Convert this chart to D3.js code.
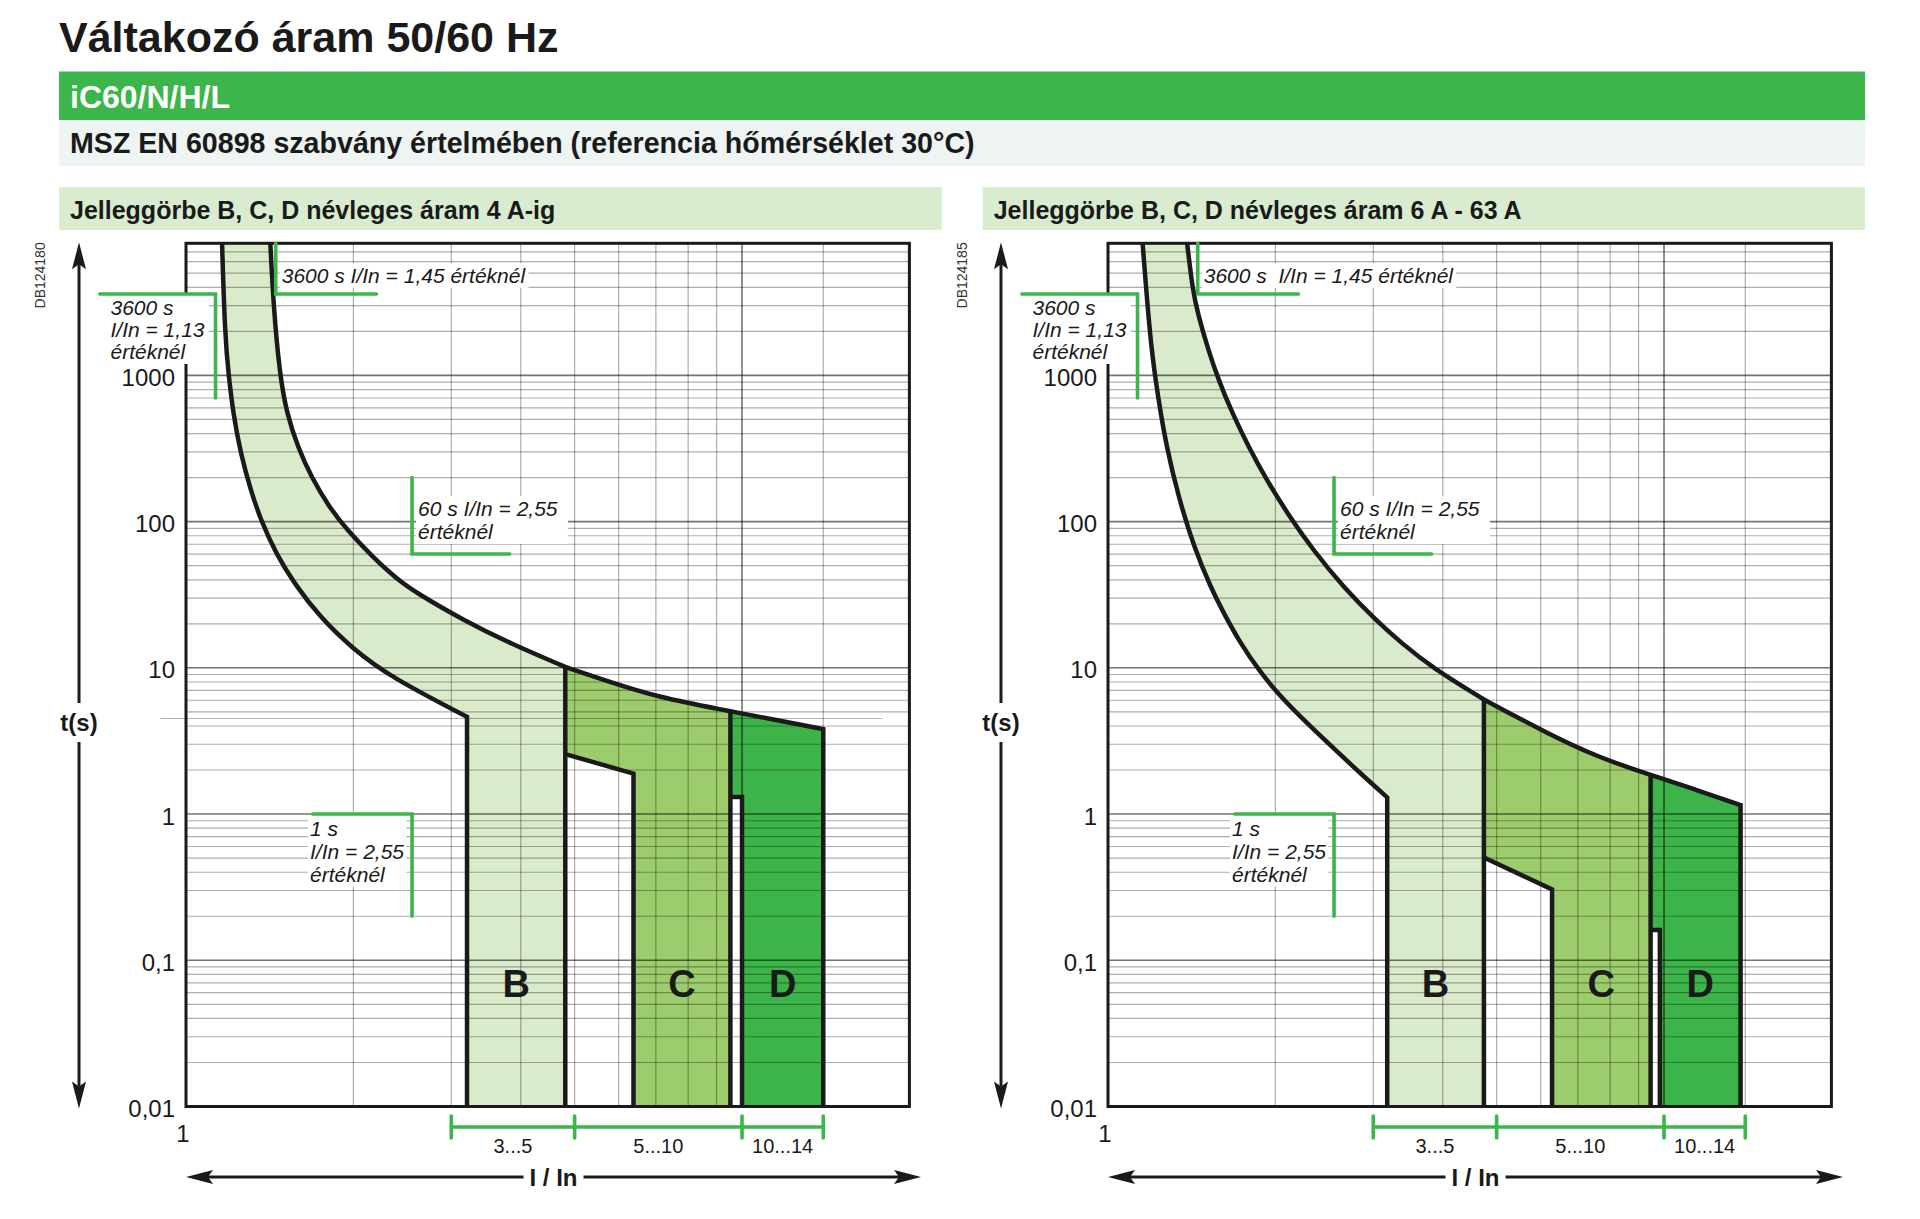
<!DOCTYPE html>
<html>
<head>
<meta charset="utf-8">
<script src="https://d3js.org/d3.v7.min.js"></script>
<style>
  body { margin: 0; background: #fff; }
  text { font-family: "Liberation Sans", Arial, Helvetica, sans-serif; }
</style>
</head>
<body>
<div id="chart"></div>
<script>
// ---- data (I/In, t in seconds) ----
const yTicks = [0.01, 0.1, 1, 10, 100, 1000];
const yTickLabels = ["0,01", "0,1", "1", "10", "100", "1000"];
const xGrid = [2, 3, 4, 5, 6, 7, 8, 9, 10, 14];
const rangeLimits = [[3, 5], [5, 10], [10, 14]];
const rangeLabels = ["3...5", "5...10", "10...14"];
const bandNames = ["B", "C", "D"];

// up to 4 A
const bLower4 = [[1.161, 8000], [1.175, 1876], [1.193, 1000], [1.216, 547], [1.254, 291.6], [1.307, 163.7],
  [1.367, 99.4], [1.452, 60.4], [1.566, 37.7], [1.74, 22.3], [1.991, 13.55], [2.331, 8.66], [3.202, 4.62]];
const bUpper4 = [[1.418, 8000], [1.437, 2930], [1.475, 1000], [1.518, 547], [1.589, 323.6], [1.68, 201.7],
  [1.809, 125.8], [1.95, 87.2], [2.166, 57.3], [2.389, 40.8], [2.606, 32.2], [3.158, 21.15], [3.83, 14.66],
  [4.81, 10.14]];
const cUpper4 = [[4.81, 10.14], [5.72, 8.13], [7.03, 6.31], [9.53, 5.05]];
const dUpper4 = [[9.53, 5.05], [11.4, 4.43], [14, 3.81]];
const cLower4 = [[4.81, 2.57], [6.38, 1.89]];
const dNotch4 = [[9.53, 1.31], [10, 1.31]];
const refLine4 = [[0.9, 4.5], [17.9, 4.5]];

// 6 A - 63 A
const bLower63 = [[1.154, 8000], [1.168, 4461], [1.195, 1561], [1.23, 710.6], [1.274, 323.6], [1.339, 147.3],
  [1.427, 67.1], [1.529, 35.7], [1.616, 23.5], [1.731, 14.7], [1.867, 9.63], [2.043, 6.33], [2.282, 4.16],
  [2.547, 2.81], [2.845, 1.895], [3.178, 1.3]];
const bUpper63 = [[1.388, 8000], [1.42, 3811], [1.451, 2641], [1.509, 1561], [1.581, 924], [1.675, 547],
  [1.79, 323.6], [1.931, 191.6], [2.103, 113.4], [2.339, 63.7], [2.65, 35.7], [3.033, 21.15], [3.379, 14.66],
  [3.825, 10.05], [4.743, 6.07]];
const cUpper63 = [[4.743, 6.07], [6.17, 3.56], [7.58, 2.46], [9.46, 1.85]];
const dUpper63 = [[9.46, 1.85], [11.47, 1.46], [13.73, 1.15]];
const cLower63 = [[4.743, 0.505], [6.29, 0.305]];
const dNotch63 = [[9.46, 0.161], [9.83, 0.161]];

// marker points of the standard
const mark1450 = { I: 1.45, t: 3600, Iend: 2.2 };
const mark1130 = { I: 1.13, t: 3600, Istart: 0.7, tEnd: 700 };
const mark60 = { I: 2.55, t: 60, tStart: 200, Iend: 3.82 };
const mark1 = { I: 2.55, t: 1, Istart: 1.69, tEnd: 0.2 };

// ---- layout ----
const W = 1920, H = 1219;
const plotW = 723.4, plotTop = 243.3, plotBottom = 1106.5;
const ink = "#1a1a1a", green = "#3cb54a";

const svg = d3.select("#chart").append("svg")
  .attr("width", W).attr("height", H);

svg.append("text").attr("x", 59).attr("y", 52)
  .attr("font-size", 43).attr("font-weight", "bold").attr("fill", ink)
  .text("Váltakozó áram 50/60 Hz");
svg.append("rect").attr("x", 59).attr("y", 71.5).attr("width", 1806).attr("height", 48.5).attr("fill", green);
svg.append("text").attr("x", 70).attr("y", 108)
  .attr("font-size", 32).attr("font-weight", "bold").attr("fill", "#fff")
  .text("iC60/N/H/L");
svg.append("rect").attr("x", 59).attr("y", 120).attr("width", 1806).attr("height", 46).attr("fill", "#eef3f3");
svg.append("text").attr("x", 70).attr("y", 153)
  .attr("font-size", 28.6).attr("font-weight", "bold").attr("fill", ink)
  .text("MSZ EN 60898 szabvány értelmében (referencia hőmérséklet 30°C)");

const charts = [
  { x0: 186, panel: [59, 941.8], title: "Jelleggörbe B, C, D névleges áram 4 A-ig", code: "DB124180",
    bLower: bLower4, bUpper: bUpper4, cUpper: cUpper4, dUpper: dUpper4, cLower: cLower4, dNotch: dNotch4,
    note1450: "3600 s I/In = 1,45 értéknél", ref: refLine4 },
  { x0: 1108, panel: [982.7, 1865], title: "Jelleggörbe B, C, D névleges áram 6 A - 63 A", code: "DB124185",
    bLower: bLower63, bUpper: bUpper63, cUpper: cUpper63, dUpper: dUpper63, cLower: cLower63, dNotch: dNotch63,
    note1450: "3600 s  I/In = 1,45 értéknél", ref: null }
];

charts.forEach(drawChart);

function drawChart(c) {
  const x = d3.scaleLog().domain([1, 20]).range([c.x0, c.x0 + plotW]);
  const y = d3.scaleLog().domain([0.01, 8000]).range([plotBottom, plotTop]);
  const P = d => `${x(d[0])},${y(d[1])}`;
  const curve = d3.line().x(d => x(d[0])).y(d => y(d[1])).curve(d3.curveBasis);
  const cont = pts => curve(pts).replace(/^M/, "L");
  const last = a => a[a.length - 1];
  const tMin = 0.01;

  // panel header
  svg.append("rect").attr("x", c.panel[0]).attr("y", 187).attr("width", c.panel[1] - c.panel[0])
    .attr("height", 43).attr("fill", "#d9ecd0");
  svg.append("text").attr("x", c.panel[0] + 11).attr("y", 219)
    .attr("font-size", 25).attr("font-weight", "bold").attr("fill", ink).text(c.title);

  const gFill = svg.append("g"), gGrid = svg.append("g"), gFrame = svg.append("g"),
        gBox = svg.append("g"), gCurve = svg.append("g"), gGreen = svg.append("g"), gText = svg.append("g");

  // fills
  const bL = c.bLower, bU = c.bUpper;
  gFill.append("path").attr("fill", "#d9ebcb")
    .attr("d", curve(bL) + `L${P([last(bL)[0], tMin])}L${P([last(bU)[0], tMin])}` +
      cont(bU.slice().reverse()) + "Z");
  gFill.append("path").attr("fill", "#9ccc6b")
    .attr("d", curve(c.cUpper) + `L${P([last(c.cUpper)[0], tMin])}L${P([c.cLower[1][0], tMin])}` +
      `L${P(c.cLower[1])}L${P(c.cLower[0])}Z`);
  gFill.append("path").attr("fill", "#3cb44a")
    .attr("d", curve(c.dUpper) + `L${P([last(c.dUpper)[0], tMin])}L${P([c.dNotch[1][0], tMin])}` +
      `L${P(c.dNotch[1])}L${P(c.dNotch[0])}Z`);

  // grid
  const hLines = [];
  for (let k = -2; k <= 3; k++) {
    for (let m = 1; m <= 9; m++) {
      const v = +(m * Math.pow(10, k)).toPrecision(3);
      if (v > 0.01 && v < 8000) hLines.push({ v: v, major: m === 1 });
    }
  }
  gGrid.selectAll("line.h").data(hLines).join("line")
    .attr("x1", c.x0).attr("x2", c.x0 + plotW)
    .attr("y1", d => y(d.v)).attr("y2", d => y(d.v))
    .attr("stroke", "#000").attr("stroke-opacity", d => d.major ? 0.55 : 0.32)
    .attr("stroke-width", d => d.major ? 1.6 : 1.2);
  gGrid.selectAll("line.v").data(xGrid).join("line")
    .attr("x1", d => x(d)).attr("x2", d => x(d))
    .attr("y1", plotTop).attr("y2", plotBottom)
    .attr("stroke", "#000").attr("stroke-opacity", d => d === 10 ? 0.55 : 0.32)
    .attr("stroke-width", d => d === 10 ? 1.6 : 1.2);
  if (c.ref) {
    gGrid.append("line").attr("x1", x(c.ref[0][0])).attr("x2", x(c.ref[1][0]))
      .attr("y1", y(c.ref[0][1])).attr("y2", y(c.ref[1][1]))
      .attr("stroke", "#000").attr("stroke-opacity", 0.3).attr("stroke-width", 1.2);
  }

  // frame
  gFrame.append("rect").attr("x", c.x0).attr("y", plotTop).attr("width", plotW)
    .attr("height", plotBottom - plotTop).attr("fill", "none").attr("stroke", ink).attr("stroke-width", 3);

  // y tick labels
  gText.selectAll("text.yt").data(yTicks).join("text")
    .attr("x", c.x0 - 11).attr("y", d => y(d) + 10.5)
    .attr("text-anchor", "end").attr("font-size", 24).attr("fill", ink)
    .text((d, i) => yTickLabels[i]);
  gText.append("text").attr("x", c.x0 - 3).attr("y", plotBottom + 35)
    .attr("text-anchor", "middle").attr("font-size", 24).attr("fill", ink).text("1");

  // curves
  const stroke = sel => sel.attr("fill", "none").attr("stroke", ink).attr("stroke-width", 4.5)
    .attr("stroke-linejoin", "miter").attr("stroke-miterlimit", 6);
  gCurve.append("path").call(stroke)
    .attr("d", curve(bL) + `L${P([last(bL)[0], tMin])}`);
  gCurve.append("path").call(stroke)
    .attr("d", curve(bU) + cont(c.cUpper) + cont(c.dUpper) + `L${P([last(c.dUpper)[0], tMin])}`);
  gCurve.append("path").call(stroke)
    .attr("d", `M${P(last(bU))}L${P([last(bU)[0], tMin])}`);
  gCurve.append("path").call(stroke)
    .attr("d", `M${P(last(c.cUpper))}L${P([last(c.cUpper)[0], tMin])}`);
  gCurve.append("path").call(stroke)
    .attr("d", `M${P(c.cLower[0])}L${P(c.cLower[1])}L${P([c.cLower[1][0], tMin])}`);
  gCurve.append("path").call(stroke)
    .attr("d", `M${P(c.dNotch[0])}L${P(c.dNotch[1])}L${P([c.dNotch[1][0], tMin])}`);

  // band letters
  const bandX = [
    Math.sqrt(last(bL)[0] * last(bU)[0]),
    Math.sqrt(c.cLower[1][0] * last(c.cUpper)[0]),
    Math.sqrt(c.dNotch[1][0] * last(c.dUpper)[0])
  ];
  gText.selectAll("text.band").data(bandNames).join("text")
    .attr("x", (d, i) => x(bandX[i])).attr("y", y(0.07) + 13.6)
    .attr("text-anchor", "middle").attr("font-size", 38).attr("font-weight", "bold").attr("fill", ink)
    .text(d => d);

  // green marker lines
  const gl = d => gGreen.append("path").attr("d", d).attr("fill", "none").attr("stroke", green)
    .attr("stroke-width", 3.6).attr("stroke-linecap", "round");
  gl(`M${x(mark1450.I)},${plotTop}L${P([mark1450.I, mark1450.t])}L${P([mark1450.Iend, mark1450.t])}`);
  gl(`M${P([mark1130.Istart, mark1130.t])}L${P([mark1130.I, mark1130.t])}L${P([mark1130.I, mark1130.tEnd])}`);
  gl(`M${P([mark60.I, mark60.tStart])}L${P([mark60.I, mark60.t])}L${P([mark60.Iend, mark60.t])}`);
  gl(`M${P([mark1.Istart, mark1.t])}L${P([mark1.I, mark1.t])}L${P([mark1.I, mark1.tEnd])}`);

  // notes with white boxes
  function note(lines, tx, ty, lh, padR) {
    const t = gText.append("text").attr("font-size", 21).attr("font-style", "italic")
      .attr("fill", ink).style("white-space", "pre");
    lines.forEach((s, i) => t.append("tspan").attr("x", tx).attr("y", ty + i * lh).text(s));
    const bb = t.node().getBBox();
    gBox.append("rect").attr("x", bb.x - 2).attr("y", bb.y - 1)
      .attr("width", bb.width + 2 + padR).attr("height", bb.height + 2).attr("fill", "#fff");
  }
  note([c.note1450], x(mark1450.I) + 6, y(mark1450.t) - 11, 0, 2);
  note(["3600 s", "I/In = 1,13", "értéknél"], x(mark1130.I) - 105, y(mark1130.t) + 21, 22, 4);
  note(["60 s I/In = 2,55", "értéknél"], x(mark60.I) + 6, y(mark60.t) - 38, 23, 10);
  note(["1 s", "I/In = 2,55", "értéknél"], x(mark1.I) - 102, y(mark1.t) + 21.5, 23, 2);

  // current ranges under the bands
  const rY = 1127;
  gGreen.append("line").attr("x1", x(rangeLimits[0][0])).attr("x2", x(last(rangeLimits)[1]))
    .attr("y1", rY).attr("y2", rY).attr("stroke", green).attr("stroke-width", 3.6);
  const rTicks = [rangeLimits[0][0]].concat(rangeLimits.map(r => r[1]));
  gGreen.selectAll("line.rt").data(rTicks).join("line")
    .attr("x1", d => x(d)).attr("x2", d => x(d)).attr("y1", rY - 11).attr("y2", rY + 11)
    .attr("stroke", green).attr("stroke-width", 3.6).attr("stroke-linecap", "round");
  gText.selectAll("text.rl").data(rangeLabels).join("text")
    .attr("x", (d, i) => (x(rangeLimits[i][0]) + x(rangeLimits[i][1])) / 2).attr("y", 1153)
    .attr("text-anchor", "middle").attr("font-size", 20).attr("fill", ink).text(d => d);

  // axis arrows
  const ax = c.x0 - 107, aY = 1177, aLen = 735;
  const arrow = (d) => svg.append("path").attr("d", d).attr("fill", ink);
  svg.append("line").attr("x1", ax).attr("x2", ax).attr("y1", plotTop + 20).attr("y2", plotBottom - 20)
    .attr("stroke", ink).attr("stroke-width", 3);
  arrow(`M${ax},${plotTop - 1}l-7,27l7,-5l7,5z`);
  arrow(`M${ax},${plotBottom + 2}l-7,-27l7,5l7,-5z`);
  svg.append("rect").attr("x", ax - 30).attr("y", 703).attr("width", 60).attr("height", 39).attr("fill", "#fff");
  svg.append("text").attr("x", ax).attr("y", 731).attr("text-anchor", "middle")
    .attr("font-size", 24).attr("font-weight", "bold").attr("fill", ink).text("t(s)");

  svg.append("line").attr("x1", c.x0 + 20).attr("x2", c.x0 + aLen - 20).attr("y1", aY).attr("y2", aY)
    .attr("stroke", ink).attr("stroke-width", 3);
  arrow(`M${c.x0},${aY}l27,-7l-5,7l5,7z`);
  arrow(`M${c.x0 + aLen},${aY}l-27,-7l5,7l-5,7z`);
  svg.append("rect").attr("x", c.x0 + 367.5 - 30).attr("y", aY - 14).attr("width", 60).attr("height", 28).attr("fill", "#fff");
  svg.append("text").attr("x", c.x0 + 367.5).attr("y", aY + 9).attr("text-anchor", "middle")
    .attr("font-size", 24).attr("font-weight", "bold").attr("fill", ink).text("I / In");

  // drawing code
  svg.append("text").attr("transform", `translate(${c.x0 - 141},${plotTop - 1}) rotate(-90)`)
    .attr("text-anchor", "end").attr("font-size", 14).attr("fill", "#333").text(c.code);
}
</script>
</body>
</html>
